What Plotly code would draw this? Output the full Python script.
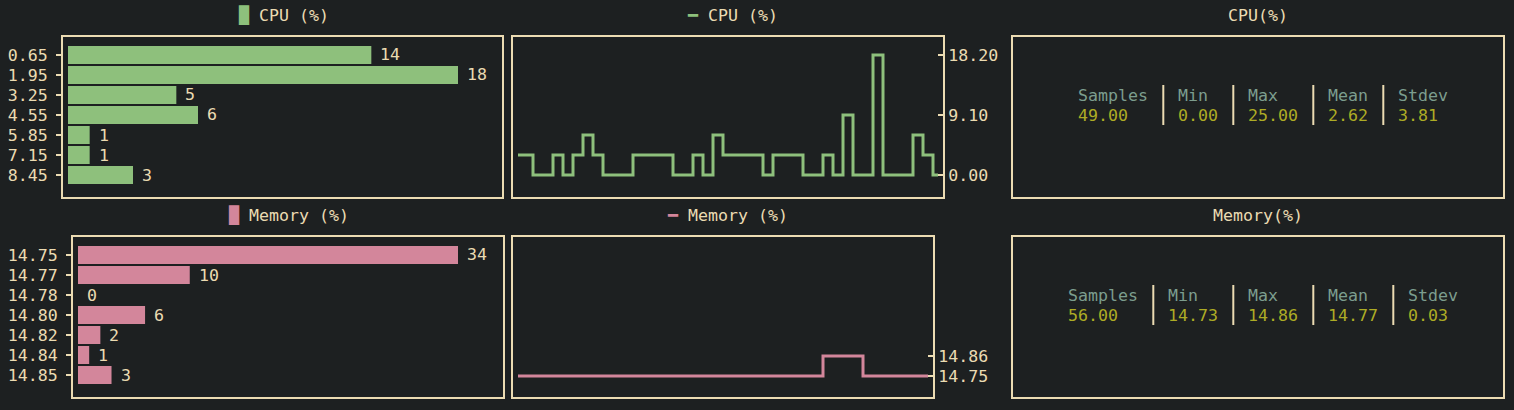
import plotly.graph_objects as go

W, H = 1514, 410
BG = "#1d2021"
FG = "#ebdbb2"
GREEN = "#8ec07c"
PINK = "#d3869b"
HDR = "#7c9d8e"
VAL = "#adac25"
FONT = "DejaVu Sans Mono"
FS = 16.6

# ---------------- data ----------------
cpu_bins = ["0.65", "1.95", "3.25", "4.55", "5.85", "7.15", "8.45"]
cpu_counts = [14, 18, 5, 6, 1, 1, 3]
mem_bins = ["14.75", "14.77", "14.78", "14.80", "14.82", "14.84", "14.85"]
mem_counts = [34, 10, 0, 6, 2, 1, 3]

cpu_series = [3.03, 3.03, 0, 0, 3.03, 0, 3.03, 6.07, 3.03, 0, 0, 0, 3.03, 3.03,
              3.03, 3.03, 0, 0, 3.03, 0, 6.07, 3.03, 3.03, 3.03, 3.03, 0, 3.03,
              3.03, 3.03, 0, 0, 3.03, 0, 9.1, 0, 0, 18.2, 0, 0, 0, 6.07, 3.03, 0]
cpu_ticks = [0.0, 9.1, 18.2]
cpu_ticktext = ["0.00", "9.10", "18.20"]

mem_series = [14.75] * 31 + [14.86] * 4 + [14.75] * 7
mem_ticks = [14.75, 14.86]
mem_ticktext = ["14.75", "14.86"]

stat_names = ["Samples", "Min", "Max", "Mean", "Stdev"]
cpu_stats = [49.00, 0.00, 25.00, 2.62, 3.81]
mem_stats = [56.00, 14.73, 14.86, 14.77, 0.03]

# ---------------- layout helpers ----------------
def fx(x):
    return x / W


def fy(y):
    return 1 - y / H


# panel frames in pixels: (x0, x1, y0, y1)
frames = {
    1: (63, 502, 37, 197),
    2: (513, 943, 37, 197),
    3: (1013, 1503, 37, 197),
    4: (73, 502.7, 237, 397),
    5: (513, 933, 237, 397),
    6: (1013, 1503, 237, 397),
}

fig = go.Figure()
layout = dict(
    width=W, height=H,
    margin=dict(l=0, r=0, t=0, b=0),
    paper_bgcolor=BG, plot_bgcolor=BG,
    showlegend=False,
    font=dict(family=FONT, size=FS, color=FG),
)

annotations = []
shapes = []


def axis_base(n):
    x0, x1, y0, y1 = frames[n]
    xa = dict(domain=[fx(x0), fx(x1)], anchor="y%d" % n if n > 1 else "y",
              showline=True, mirror=True, linecolor=FG, linewidth=2,
              showgrid=False, zeroline=False, showticklabels=False, ticks="",
              fixedrange=True)
    ya = dict(domain=[fy(y1), fy(y0)], anchor="x%d" % n if n > 1 else "x",
              showline=True, mirror=True, linecolor=FG, linewidth=2,
              showgrid=False, zeroline=False, showticklabels=False, ticks="",
              fixedrange=True)
    return xa, ya


def key(n, ax):
    return ax + ("axis" if n == 1 else "axis%d" % n)


def ref(n, ax):
    return ax if n == 1 else ax + str(n)


# ---------------- histograms ----------------
def histogram(n, bins, counts, color, zero_px, maxbar_px):
    x0, x1, y0, y1 = frames[n]
    scale = (maxbar_px - zero_px) / max(counts)
    fig.add_trace(go.Bar(x=counts, y=bins, orientation="h", width=0.9,
                         marker=dict(color=color, line=dict(width=0)),
                         xaxis=ref(n, "x"), yaxis=ref(n, "y"),
                         hoverinfo="skip"))
    xa, ya = axis_base(n)
    xa["range"] = [-(zero_px - x0) / scale, (x1 - zero_px) / scale]
    nb = len(bins)
    ya.update(type="category", range=[nb - 1 + 1.1, -0.9],
              categoryorder="array", categoryarray=bins,
              showticklabels=True, ticks="outside", ticklen=5, tickwidth=2,
              tickcolor=FG, ticklabelstandoff=5,
              tickfont=dict(family=FONT, size=FS, color=FG))
    layout[key(n, "x")] = xa
    layout[key(n, "y")] = ya
    for i, c in enumerate(counts):
        annotations.append(dict(x=c, y=i, xref=ref(n, "x"), yref=ref(n, "y"),
                                text=str(c), showarrow=False, xanchor="left",
                                yanchor="middle", xshift=7,
                                font=dict(family=FONT, size=FS, color=FG)))


histogram(1, cpu_bins, cpu_counts, GREEN, 68, 458)
histogram(4, mem_bins, mem_counts, PINK, 78, 458)


# ---------------- step line charts ----------------
def stepline(n, series, color, ticks, ticktext, yr):
    x0, x1, y0, y1 = frames[n]
    xs = list(range(len(series)))
    fig.add_trace(go.Scatter(x=xs, y=series, mode="lines",
                             line=dict(color=color, width=3, shape="hvh"),
                             xaxis=ref(n, "x"), yaxis=ref(n, "y"),
                             hoverinfo="skip"))
    xa, ya = axis_base(n)
    # 10 px per sample, first sample 5 px inside the frame
    xa["range"] = [-0.5, -0.5 + (x1 - x0) / 10.0]
    ya.update(range=yr, side="right", showticklabels=True, ticks="inside",
              ticklen=5, tickwidth=2, tickcolor=FG, tickvals=ticks,
              ticktext=ticktext, ticklabelstandoff=0,
              tickfont=dict(family=FONT, size=FS, color=FG))
    layout[key(n, "x")] = xa
    layout[key(n, "y")] = ya


stepline(2, cpu_series, GREEN, cpu_ticks, cpu_ticktext, [-3.337, 20.93])
stepline(5, mem_series, PINK, mem_ticks, mem_ticktext, [14.6345, 15.5145])


# ---------------- stats panels ----------------
def stats(n, values):
    x0, x1, y0, y1 = frames[n]
    fig.add_trace(go.Scatter(x=[], y=[], xaxis=ref(n, "x"), yaxis=ref(n, "y")))
    xa, ya = axis_base(n)
    xa["range"] = [0, 1]
    ya["range"] = [0, 1]
    layout[key(n, "x")] = xa
    layout[key(n, "y")] = ya
    vals = ["%.2f" % v for v in values]
    widths = [max(len(h), len(v)) for h, v in zip(stat_names, vals)]
    total = (sum(widths) + 3 * (len(widths) - 1)) * 10
    cx = 1263.3
    x = cx - total / 2
    hy = y0 + 58.5
    vy = y0 + 78
    for i, (h, v, w) in enumerate(zip(stat_names, vals, widths)):
        annotations.append(dict(x=fx(x), y=fy(hy), xref="paper", yref="paper",
                                text=h, showarrow=False, xanchor="left",
                                yanchor="middle", xshift=-2,
                                font=dict(family=FONT, size=FS, color=HDR)))
        annotations.append(dict(x=fx(x), y=fy(vy), xref="paper", yref="paper",
                                text=v, showarrow=False, xanchor="left",
                                yanchor="middle", xshift=-2,
                                font=dict(family=FONT, size=FS, color=VAL)))
        if i < len(widths) - 1:
            sx = x + w * 10 + 15
            shapes.append(dict(type="line", xref="paper", yref="paper",
                               x0=fx(sx), x1=fx(sx), y0=fy(y0 + 48), y1=fy(y0 + 88),
                               line=dict(color=FG, width=2)))
        x += (w + 3) * 10


stats(3, cpu_stats)
stats(6, mem_stats)


# ---------------- titles ----------------
def title(text, cx, cy):
    annotations.append(dict(x=fx(cx), y=fy(cy), xref="paper", yref="paper",
                            text=text, showarrow=False, xanchor="center",
                            yanchor="middle",
                            font=dict(family=FONT, size=FS, color=FG)))


title('<span style="color:%s">█</span> CPU (%%)' % GREEN, 283, 15)
title('<span style="color:%s">━</span> CPU (%%)' % GREEN, 732.5, 15)
title("CPU(%)", 1258, 15)
title('<span style="color:%s">█</span> Memory (%%)' % PINK, 288, 215)
title('<span style="color:%s">━</span> Memory (%%)' % PINK, 727.5, 215)
title("Memory(%)", 1258, 215)

layout["annotations"] = annotations
layout["shapes"] = shapes
fig.update_layout(**layout)
fig.write_html("out.html", config={"displayModeBar": False},
               post_script="document.body.style.margin='0px';"
                           "document.body.style.overflow='hidden';"
                           "document.body.style.background='%s';" % BG)
